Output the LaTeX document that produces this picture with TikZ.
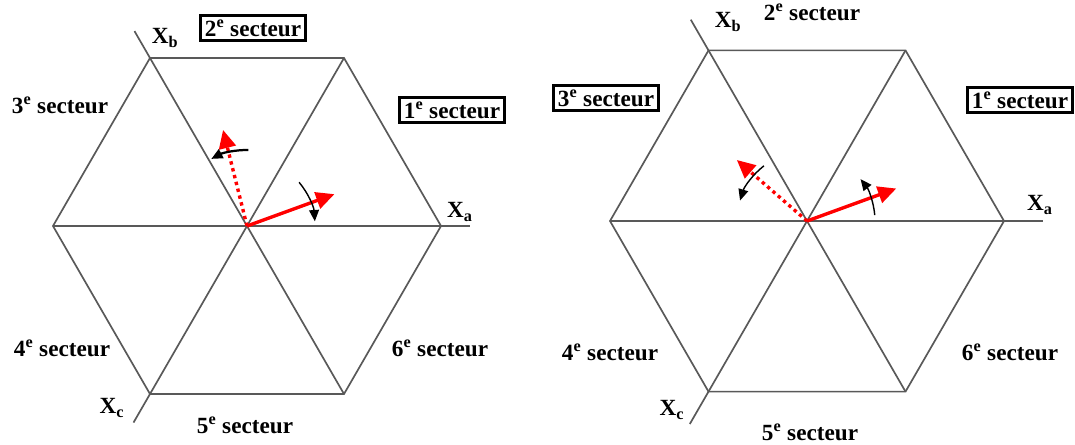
\documentclass[tikz,border=0pt]{standalone}
\usepackage{fontspec}
\setmainfont{Liberation Serif}
\usetikzlibrary{arrows.meta}

\tikzset{
  hexa/.style={draw=black!65, line width=1.2pt},
  vecteur/.style={red, line width=2.4pt, -{Triangle[length=13pt,width=12pt]}},
  vecteurpt/.style={vecteur, dash pattern=on 2.4pt off 2.6pt},
  rotation/.style={black, line width=1pt, -{Triangle[length=8pt,width=7pt]}},
  lbl/.style={font=\fontsize{16.5}{19}\selectfont\bfseries, inner sep=2pt},
  cadre/.style={lbl, draw, line width=2.2pt, inner sep=3pt},
}

\begin{document}
\begin{tikzpicture}[x=0.025cm, y=0.025cm]

  \useasboundingbox (0,-445) rectangle (1075,0);

  % ----------------------------------------------------------------
  % Left hexagon: sector 1 -> sector 2
  % ----------------------------------------------------------------
  \begin{scope}[shift={(247,-226)}]
    \def\R{194}  % hexagon radius

    \coordinate (O1) at (0,0);
    % outline
    \draw[hexa] (0:\R) \foreach \a in {60,120,...,300} { -- (\a:\R) } -- cycle;
    % the three axes, extended past the hexagon
    \draw[hexa] (180:\R) -- (0:1.15*\R);
    \draw[hexa] (300:\R) -- (120:1.16*\R);
    \draw[hexa] (60:\R)  -- (240:1.17*\R);

    % vectors
    \coordinate (V1) at (20:93);
    \coordinate (W1) at (104:99);
    \draw[vecteurpt] (O1) -- (W1);
    \draw[vecteur] (O1) -- (V1);
    \draw[rotation] (40:68) arc[start angle=40, end angle=4, radius=68];
    \draw[rotation, line width=1.6pt] (89:76) arc[start angle=89, end angle=118, radius=76];

    % labels
    \node[lbl]   (xa1) at (213,14)    {X\textsubscript{a}};
    \node[lbl]   (xb1) at (-82,188)   {X\textsubscript{b}};
    \node[lbl]   (xc1) at (-135,-182) {X\textsubscript{c}};
    \node[cadre] (s11) at (205,116)   {1\textsuperscript{e} secteur};
    \node[cadre] (s21) at (6,198)     {2\textsuperscript{e} secteur};
    \node[lbl]   (s31) at (-187,121)  {3\textsuperscript{e} secteur};
    \node[lbl]   (s41) at (-185,-122) {4\textsuperscript{e} secteur};
    \node[lbl]   (s51) at (-2,-199)   {5\textsuperscript{e} secteur};
    \node[lbl]   (s61) at (193,-122)  {6\textsuperscript{e} secteur};
  \end{scope}

  % ----------------------------------------------------------------
  % Right hexagon: sector 1 -> sector 3
  % ----------------------------------------------------------------
  \begin{scope}[shift={(807,-221)}]
    \def\R{197}

    \coordinate (O2) at (0,0);
    \draw[hexa] (0:\R) \foreach \a in {60,120,...,300} { -- (\a:\R) } -- cycle;
    \draw[hexa] (180:\R) -- (0:1.2*\R);
    \draw[hexa] (300:\R) -- (120:1.18*\R);
    \draw[hexa] (60:\R)  -- (240:1.19*\R);

    \coordinate (V2) at (20:95);
    \coordinate (W2) at (139:93);
    \draw[vecteurpt] (O2) -- (W2);
    \draw[vecteur] (O2) -- (V2);
    \draw[rotation] (5:68) arc[start angle=5, end angle=38, radius=68];
    \draw[rotation] (128:70) arc[start angle=128, end angle=163, radius=70];

    \node[lbl]   (xa2) at (233,16)    {X\textsubscript{a}};
    \node[lbl]   (xb2) at (-79,199)   {X\textsubscript{b}};
    \node[lbl]   (xc2) at (-135,-189) {X\textsubscript{c}};
    \node[cadre] (s12) at (213,121)   {1\textsuperscript{e} secteur};
    \node[lbl]   (s22) at (5,209)     {2\textsuperscript{e} secteur};
    \node[cadre] (s32) at (-201,123)  {3\textsuperscript{e} secteur};
    \node[lbl]   (s42) at (-197,-131) {4\textsuperscript{e} secteur};
    \node[lbl]   (s52) at (3,-211)    {5\textsuperscript{e} secteur};
    \node[lbl]   (s62) at (203,-131)  {6\textsuperscript{e} secteur};
  \end{scope}

\end{tikzpicture}
\end{document}
